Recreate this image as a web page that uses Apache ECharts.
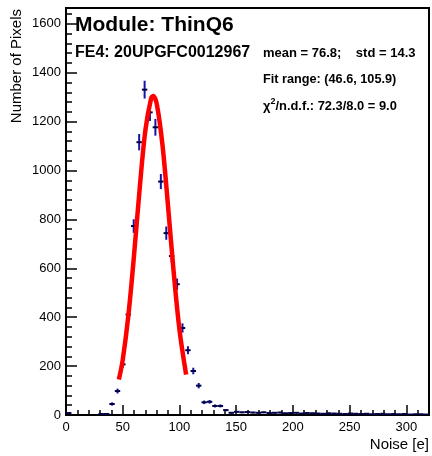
<!DOCTYPE html>
<html><head><meta charset="utf-8">
<script src="https://cdn.jsdelivr.net/npm/echarts@6/dist/echarts.min.js"></script>
<style>html,body{margin:0;padding:0;background:#fff}#c{width:432px;height:456px}</style>
</head><body><div id="c"></div>
<script>
// Histogram bins (centers, in e) and counts
const binCenters = [2.4, 31.0, 35.8, 40.6, 45.4, 50.1, 54.9, 59.7, 64.5, 69.3, 74.0, 78.8, 83.6, 88.4, 93.1, 97.9,
  102.7, 107.5, 112.2, 117.0, 121.8, 126.6, 131.3, 136.1, 140.9, 145.7, 150.5, 155.2, 160.0, 164.8, 169.6, 174.3,
  179.1, 183.9, 188.7, 193.4, 198.2, 203.0, 207.8, 212.5, 217.3, 222.1, 226.9, 231.6, 236.4, 241.2, 246.0, 250.7,
  255.5, 260.3, 265.1, 269.9, 274.6, 279.4, 284.2, 289.0, 293.7, 298.5, 303.3, 308.1, 312.8, 317.6];
const binCounts = [8, 4, 4, 45, 98, 207, 411, 773, 1116, 1331, 1238, 1177, 955, 744, 650, 535,
  356, 265, 180, 120, 52, 54, 37, 37, 20, 9, 13, 11, 12, 10, 9, 11,
  8, 9, 10, 7, 8, 9, 6, 8, 7, 6, 5, 7, 6, 5, 4, 6,
  5, 4, 5, 3, 4, 5, 3, 4, 3, 4, 2, 3, 3, 2];
const binWidth = 4.776;

// Gaussian fit curve (fit range 46.6 - 105.9)
const fitX = [46.6, 50, 55, 60, 65, 70, 75, 76.8, 80, 85, 90, 95, 100, 105.9];
const fitY = [145, 225, 408, 655, 929, 1166, 1295, 1305, 1273, 1107, 852, 581, 350, 165];

// Axis ticks
const xMajorTicks = [0, 50, 100, 150, 200, 250, 300];
const xMinorTicks = [0, 10, 20, 30, 40, 50, 60, 70, 80, 90, 100, 110, 120, 130, 140, 150, 160, 170, 180, 190, 200,
  210, 220, 230, 240, 250, 260, 270, 280, 290, 300, 310, 320];
const yMajorTicks = [0, 200, 400, 600, 800, 1000, 1200, 1400, 1600];
const yMinorTicks = [0, 40, 80, 120, 160, 200, 240, 280, 320, 360, 400, 440, 480, 520, 560, 600, 640, 680, 720, 760,
  800, 840, 880, 920, 960, 1000, 1040, 1080, 1120, 1160, 1200, 1240, 1280, 1320, 1360, 1400, 1440, 1480, 1520, 1560,
  1600, 1640];

const FONT = '"Liberation Sans", Arial, Helvetica, sans-serif';

const chart = echarts.init(document.getElementById('c'), null, {renderer: 'canvas'});

function renderItem(params, api) {
  const x = api.value(0), y = api.value(1), e = api.value(2);
  const c = api.coord([x, y]);
  const t = api.coord([x, y + e]);
  const b = api.coord([x, Math.max(0, y - e)]);
  const l = api.coord([x - binWidth / 2, y]);
  const r = api.coord([x + binWidth / 2, y]);
  return {
    type: 'group',
    children: [
      {type: 'line', shape: {x1: c[0], y1: t[1], x2: c[0], y2: b[1]}, style: {stroke: '#1414a8', lineWidth: 2}},
      {type: 'line', shape: {x1: l[0], y1: c[1], x2: r[0], y2: c[1]}, style: {stroke: '#000044', lineWidth: 2}}
    ]
  };
}

const axisBase = {
  type: 'value', min: 0, splitLine: {show: false}
};
const plain = v => String(v);

chart.setOption({
  animation: false,
  backgroundColor: '#fff',
  grid: {left: 66, right: 3, top: 8, bottom: 41, show: true, borderColor: '#000', borderWidth: 2, backgroundColor: 'transparent'},
  xAxis: [
    Object.assign({}, axisBase, {
      max: 320, position: 'bottom',
      axisLine: {show: true, lineStyle: {color: '#000', width: 2}},
      axisTick: {show: true, inside: true, length: 10, customValues: xMajorTicks, lineStyle: {color: '#000', width: 1.5}},
      axisLabel: {show: true, customValues: xMajorTicks, formatter: plain, color: '#000', fontSize: 13, fontFamily: FONT, margin: 6}
    }),
    Object.assign({}, axisBase, {
      max: 320, position: 'bottom', offset: 0,
      axisLine: {show: false},
      axisTick: {show: true, inside: true, length: 5, customValues: xMinorTicks, lineStyle: {color: '#000', width: 1.5}},
      axisLabel: {show: false}
    })
  ],
  yAxis: [
    Object.assign({}, axisBase, {
      max: 1665, position: 'left',
      axisLine: {show: true, lineStyle: {color: '#000', width: 2}},
      axisTick: {show: true, inside: true, length: 11, customValues: yMajorTicks, lineStyle: {color: '#000', width: 1.5}},
      axisLabel: {show: true, customValues: yMajorTicks, formatter: plain, color: '#000', fontSize: 13, fontFamily: FONT, margin: 5}
    }),
    Object.assign({}, axisBase, {
      max: 1665, position: 'left', offset: 0,
      axisLine: {show: false},
      axisTick: {show: true, inside: true, length: 6, customValues: yMinorTicks, lineStyle: {color: '#000', width: 1.5}},
      axisLabel: {show: false}
    })
  ],
  series: [
    {
      type: 'custom', name: 'data', xAxisIndex: 0, yAxisIndex: 0, clip: true,
      renderItem: renderItem,
      data: binCenters.map((x, i) => [x, binCounts[i], Math.sqrt(binCounts[i])]),
      z: 2
    },
    {
      type: 'line', name: 'fit', xAxisIndex: 0, yAxisIndex: 0,
      data: fitX.map((x, i) => [x, fitY[i]]),
      smooth: 0.35, showSymbol: false, symbol: 'none',
      lineStyle: {color: '#ff0000', width: 4.5},
      z: 5
    }
  ],
  graphic: [
    {type: 'text', x: 17, y: 9, rotation: Math.PI / 2,
      style: {text: 'Number of Pixels', fontSize: 15, fontFamily: FONT, fill: '#000', align: 'right', verticalAlign: 'middle'}},
    {type: 'text', x: 429, y: 445,
      style: {text: 'Noise [e]', fontSize: 15, fontFamily: FONT, fill: '#000', align: 'right', verticalAlign: 'middle'}},
    {type: 'text', x: 75, y: 25,
      style: {text: 'Module: ThinQ6', fontSize: 21, fontWeight: 'bold', fontFamily: FONT, fill: '#000', align: 'left', verticalAlign: 'middle'}},
    {type: 'text', x: 75, y: 53,
      style: {text: 'FE4: 20UPGFC0012967', fontSize: 16, fontWeight: 'bold', fontFamily: FONT, fill: '#000', align: 'left', verticalAlign: 'middle'}},
    {type: 'text', x: 263, y: 53,
      style: {text: 'mean = 76.8;    std = 14.3', fontSize: 13, fontWeight: 'bold', fontFamily: FONT, fill: '#000', align: 'left', verticalAlign: 'middle'}},
    {type: 'text', x: 263, y: 79,
      style: {text: 'Fit range: (46.6, 105.9)', fontSize: 12.7, fontWeight: 'bold', fontFamily: FONT, fill: '#000', align: 'left', verticalAlign: 'middle'}},
    {type: 'text', x: 263, y: 105,
      style: {
        text: '{a|χ}{s|2}{a|/n.d.f.: 72.3/8.0 = 9.0}',
        fontFamily: FONT, fill: '#000', align: 'left', verticalAlign: 'middle',
        rich: {
          a: {fontSize: 12.9, fontWeight: 'bold', fontFamily: FONT, fill: '#000', verticalAlign: 'bottom', lineHeight: 16},
          s: {fontSize: 9, fontWeight: 'bold', fontFamily: FONT, fill: '#000', verticalAlign: 'top', lineHeight: 16}
        }
      }}
  ]
});
</script>
</body></html>
